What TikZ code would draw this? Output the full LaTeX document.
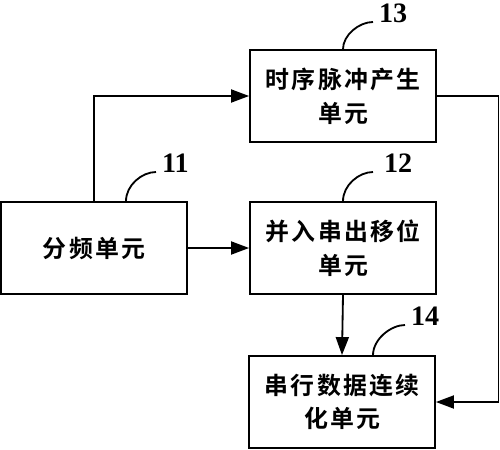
\documentclass[tikz,border=0pt]{standalone}
\usepackage{fontspec}
\setmainfont{Liberation Serif}
\newfontfamily\cjk[LetterSpace=9]{Noto Sans CJK SC Bold}
\usetikzlibrary{arrows.meta, calc}

\begin{document}
\begin{tikzpicture}[x=0.05cm, y=-0.05cm,
        unit/.style={draw, line width=2.6pt, minimum width=9.3cm, minimum height=4.6cm, align=center, font=\cjk\fontsize{34}{48}\selectfont},
        tag/.style={inner sep=0pt, anchor=base west, font=\bfseries\fontsize{40}{40}\selectfont},
        arr/.style={line width=2.6pt, -{Triangle[length=0.9cm, width=0.65cm]}},
        lead/.style={line width=2.6pt}]
        \useasboundingbox (0,0) rectangle (500,450);
        \node[unit] (fenpin) at (94,248) {分频单元}; % 11
        \node[unit] (yiwei) at (343,248) {并入串出移位\\单元}; % 12
        \node[unit] (shixu) at (343,96) {时序脉冲产生\\单元}; % 13
        \node[unit] (chuanxing) at (342,402) {串行数据连续\\化单元}; % 14
        \node[tag] (l11) at (162,172) {11};
        \node[tag] (l12) at (384,172) {12};
        \node[tag] (l13) at (379,22) {13};
        \node[tag] (l14) at (411,325) {14};
        \coordinate (rt) at (498.5,96);
        \draw[arr] (fenpin.north) |- (shixu.west);
        \draw[arr] (fenpin.east) -- (yiwei.west);
        \draw[arr] (yiwei.south) -- (chuanxing.north);
        \draw[arr] (shixu.east) -- (rt) |- (chuanxing.east);
        \draw[lead] ([xshift=1.6cm]fenpin.north) .. controls +(0,-16) and +(-14,0) .. ([xshift=-0.3cm]l11.base west);
        \draw[lead] (yiwei.north) .. controls +(0,-16) and +(-14,0) .. ([xshift=-0.55cm]l12.base west);
        \draw[lead] (shixu.north) .. controls +(0,-14) and +(-14,0) .. ([xshift=-0.3cm]l13.base west);
        \draw[lead] ([xshift=1.55cm]chuanxing.north) .. controls +(0,-16) and +(-14,0) .. ([xshift=-0.3cm]l14.base west);
    \end{tikzpicture}
\end{document}
